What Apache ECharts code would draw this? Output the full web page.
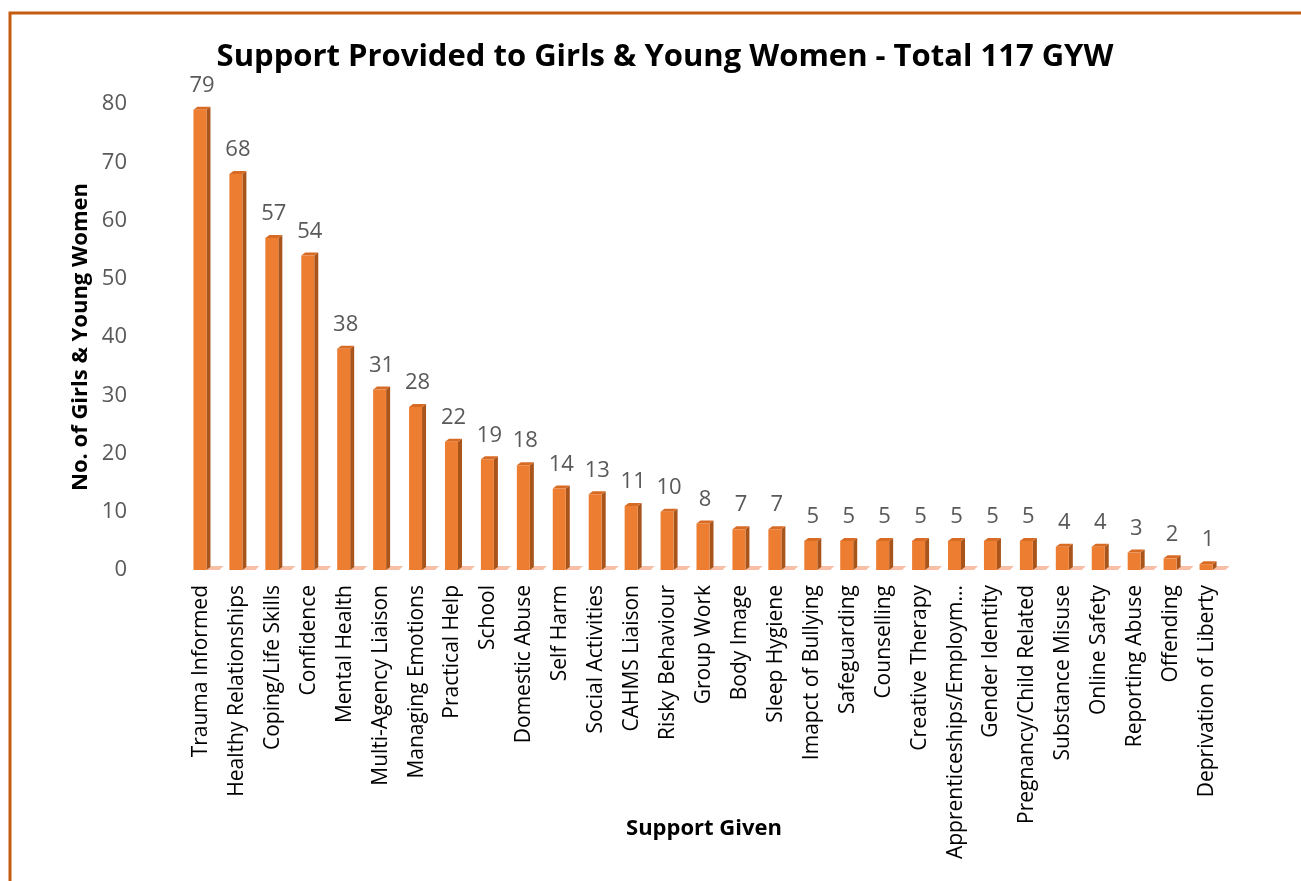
<!DOCTYPE html>
<html>
<head>
<meta charset="utf-8">
<script src="https://cdn.jsdelivr.net/npm/echarts@6/dist/echarts.min.js"></script>
<style>
  html, body { margin: 0; padding: 0; background: #fff; }
  #main { width: 1301px; height: 881px; }
</style>
</head>
<body>
<div id="main"></div>
<script>
// categories and counts
var supportTypes = [
  'Trauma Informed', 'Healthy Relationships', 'Coping/Life Skills', 'Confidence',
  'Mental Health', 'Multi-Agency Liaison', 'Managing Emotions', 'Practical Help',
  'School', 'Domestic Abuse', 'Self Harm', 'Social Activities', 'CAHMS Liaison',
  'Risky Behaviour', 'Group Work', 'Body Image', 'Sleep Hygiene', 'Imapct of Bullying',
  'Safeguarding', 'Counselling', 'Creative Therapy', 'Apprenticeships/Employment',
  'Gender Identity', 'Pregnancy/Child Related', 'Substance Misuse', 'Online Safety',
  'Reporting Abuse', 'Offending', 'Deprivation of Liberty'
];
var gywCounts = [79, 68, 57, 54, 38, 31, 28, 22, 19, 18, 14, 13, 11, 10, 8, 7, 7,
  5, 5, 5, 5, 5, 5, 5, 4, 4, 3, 2, 1];
var yTicks = [0, 10, 20, 30, 40, 50, 60, 70, 80];

var myChart = echarts.init(document.getElementById('main'));

// draws one 3d-ish column: front face, side, top, floor shadow and value label
function renderBar(params, api) {
  var idx = api.value(0);
  var val = api.value(1);
  var base = api.coord([idx, 0]);
  var top = api.coord([idx, val]);
  var w = 13;
  var d = 4;
  var x = base[0] - w / 2 - 1;
  var xr = x + w;
  var b = base[1];
  var t = top[1];
  return {
    type: 'group',
    children: [
      { type: 'polygon', shape: { points: [[xr, b], [xr + 13, b], [xr + 17, b - 4], [xr + 4, b - 4]] },
        style: { fill: '#F6BFA6' } },
      { type: 'polygon', shape: { points: [[xr, t], [xr + d, t - d + 1], [xr + d, b - d + 1], [xr, b]] },
        style: { fill: '#A9541B' } },
      { type: 'polygon', shape: { points: [[x, t], [x + d, t - d + 1], [xr + d, t - d + 1], [xr, t]] },
        style: { fill: '#D86B24' } },
      { type: 'rect', shape: { x: x, y: t, width: w, height: b - t },
        style: { fill: '#ED7D31' } },
      { type: 'text', x: x + w / 2 + 2, y: t - 13,
        style: { text: String(val), fill: '#595959', font: '22px "Open Sans"',
          align: 'center', verticalAlign: 'bottom' } }
    ]
  };
}

var option = {
  backgroundColor: '#fff',
  animation: false,
  title: {
    text: 'Support Provided to Girls & Young Women - Total 117 GYW',
    left: 660,
    textAlign: 'center',
    top: 37,
    textStyle: { fontFamily: 'Open Sans', fontWeight: 'bold', fontSize: 31, color: '#000' }
  },
  graphic: [
    { type: 'rect', shape: { x: 10, y: 13, width: 1320, height: 900 },
      style: { fill: 'none', stroke: '#C55A11', lineWidth: 3 }, z: 100 }
  ],
  grid: { left: 183, right: 76, top: 104, bottom: 311 },
  xAxis: {
    type: 'category',
    data: supportTypes,
    axisLine: { show: false },
    axisTick: { show: false },
    axisLabel: {
      rotate: 90, interval: 0, margin: 15, color: '#000',
      fontFamily: 'Open Sans', fontSize: 21,
      width: 284, overflow: 'truncate', ellipsis: '...'
    },
    name: 'Support Given',
    nameLocation: 'middle',
    nameGap: 248,
    nameMoveOverlap: false,
    nameTextStyle: { fontFamily: 'Open Sans', fontWeight: 'bold', fontSize: 22, color: '#000' }
  },
  yAxis: {
    type: 'value',
    min: yTicks[0],
    max: yTicks[yTicks.length - 1],
    interval: 10,
    axisLine: { show: false },
    axisTick: { show: false },
    splitLine: { show: false },
    axisLabel: { color: '#595959', fontFamily: 'Open Sans', fontSize: 22, margin: 56 },
    name: 'No. of Girls & Young Women',
    nameLocation: 'middle',
    nameGap: 91,
    nameMoveOverlap: false,
    nameTextStyle: { fontFamily: 'Open Sans', fontWeight: 'bold', fontSize: 22, color: '#000' }
  },
  series: [{
    type: 'custom',
    renderItem: renderBar,
    encode: { x: 0, y: 1 },
    data: gywCounts.map(function (v, i) { return [i, v]; }),
    clip: false
  }]
};

myChart.setOption(option);
</script>
</body>
</html>
